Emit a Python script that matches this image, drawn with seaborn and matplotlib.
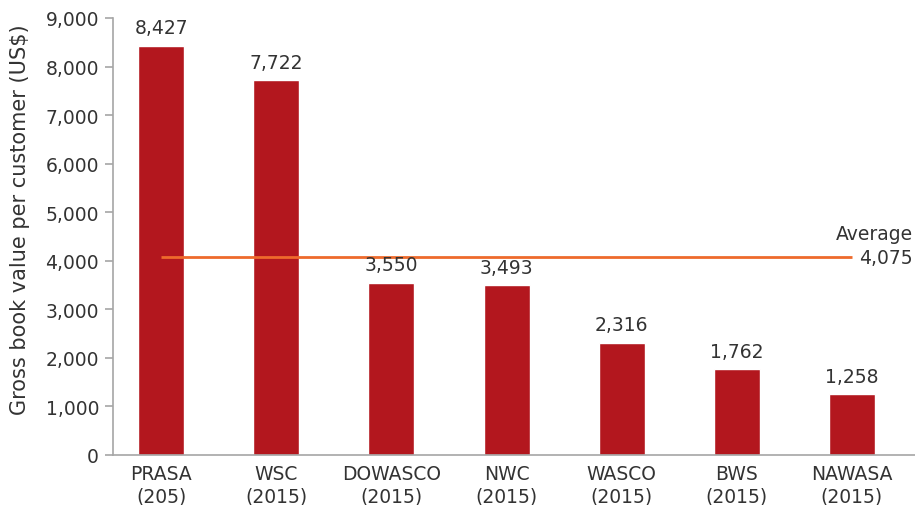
# Dependencies
import matplotlib
matplotlib.use('Agg')
import matplotlib.pyplot as plt
import matplotlib.transforms as mtransforms
import seaborn as sns
import pandas as pd

# Data
utilities = ["PRASA", "WSC", "DOWASCO", "NWC", "WASCO", "BWS", "NAWASA"]
years = ["(205)", "(2015)", "(2015)", "(2015)", "(2015)", "(2015)", "(2015)"]
values = [8427, 7722, 3550, 3493, 2316, 1762, 1258]
average = 4075
y_ticks = [0, 1000, 2000, 3000, 4000, 5000, 6000, 7000, 8000, 9000]

# Style
col_bar = "#B3171E"
col_avg = "#EE6A2C"
col_text = "#333333"
col_axis = "#A6A6A6"
fs = 13.5

sns.set_style("white")
plt.rcParams['font.family'] = ['DejaVu Sans']

df = pd.DataFrame({"label": [f"{u}\n{y}" for u, y in zip(utilities, years)], "value": values})

fig = plt.figure(figsize=(9.15, 5.06), dpi=100)
ax = fig.add_axes([113 / 915, 1 - 456 / 506, 802 / 915, 437 / 506])

sns.barplot(data=df, x="label", y="value", color=col_bar, width=0.4, saturation=1, ax=ax)

# average line across bar centres
ax.plot([0, len(values) - 1], [average, average], color=col_avg, lw=2, solid_capstyle='butt')

# value labels
for i, v in enumerate(values):
    ax.annotate(f"{v:,}", xy=(i, v), xytext=(0, 6), textcoords="offset points",
                ha="center", va="bottom", fontsize=fs, color=col_text)

# average label
trans = mtransforms.blended_transform_factory(ax.transAxes, ax.transData)
ax.text(0.997, average, f"{average:,}", transform=trans, ha="right", va="center",
        fontsize=fs, color=col_text)
ax.annotate("Average", xy=(0.997, average), xycoords=trans, xytext=(0, 17),
            textcoords="offset points", ha="right", va="center", fontsize=fs, color=col_text)

# axes
ax.set_xlim(-0.42, 6.55)
ax.set_ylim(0, 9000)
ax.set_yticks(y_ticks)
ax.yaxis.set_major_formatter(matplotlib.ticker.FuncFormatter(lambda x, p: format(int(x), ',')))
ax.set_xlabel("")
ax.set_ylabel("Gross book value per customer (US$)", fontsize=15, color=col_text)
ax.yaxis.set_label_coords(-0.103, 0.54)

for s in ["top", "right"]:
    ax.spines[s].set_visible(False)
for s in ["left", "bottom"]:
    ax.spines[s].set_color(col_axis)
    ax.spines[s].set_linewidth(1.2)

ax.tick_params(axis="y", which="both", left=True, length=6, width=1.2, color=col_axis,
               labelsize=fs, labelcolor=col_text, pad=4)
ax.tick_params(axis="x", bottom=False, labelsize=fs, labelcolor=col_text, pad=3)
for t in ax.get_xticklabels():
    t.set_linespacing(1.2)

plt.savefig("out.png", dpi=100)
plt.close("all")
